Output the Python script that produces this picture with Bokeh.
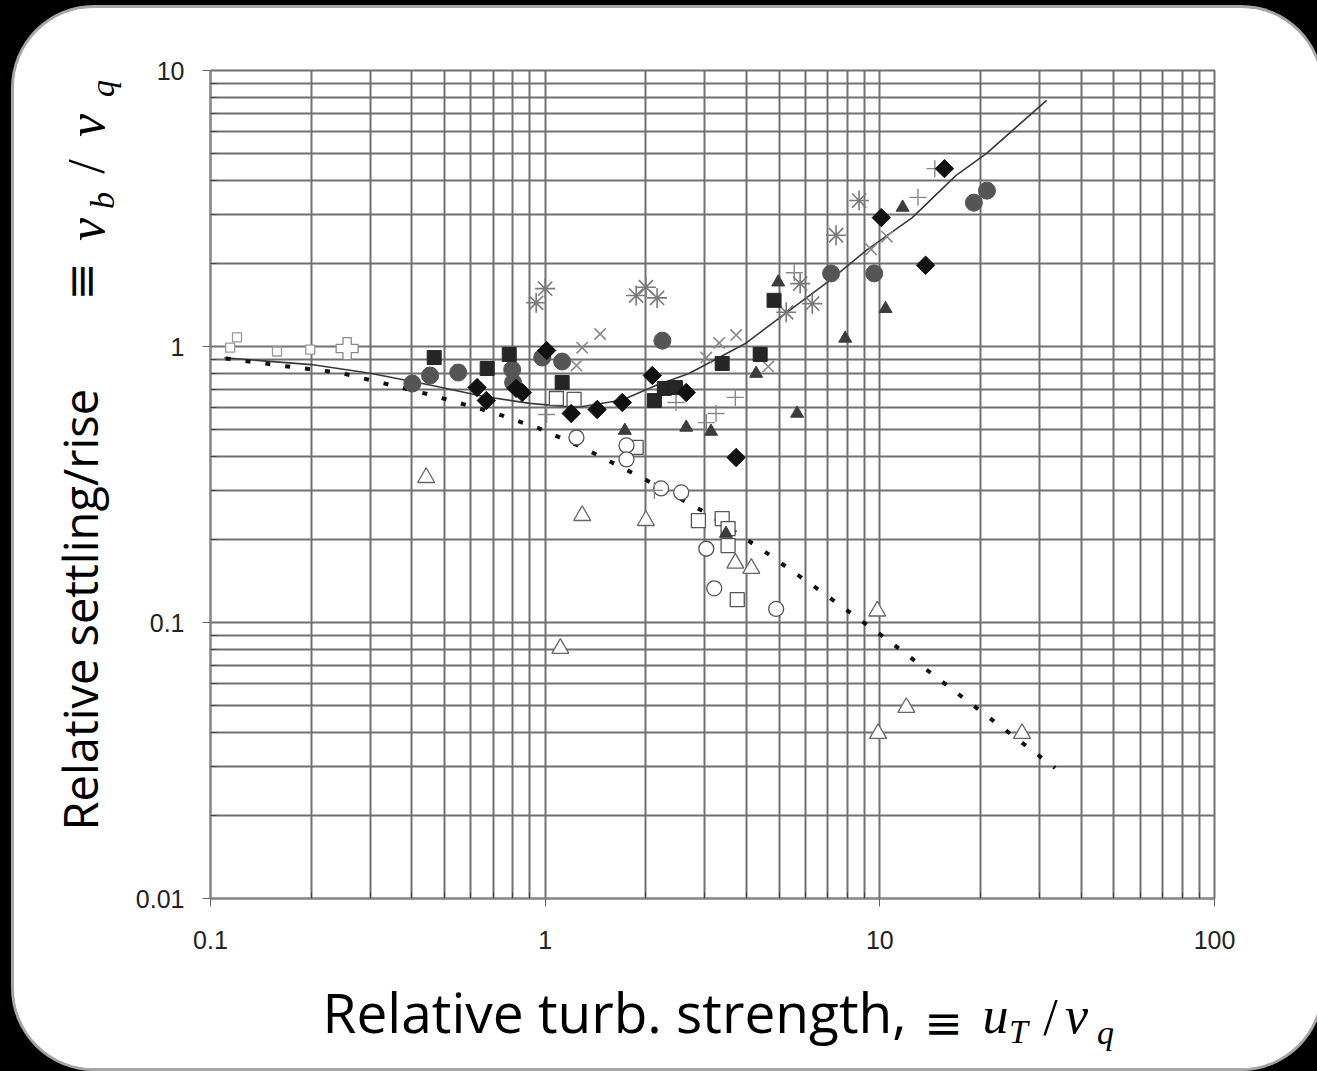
import math
from bokeh.plotting import figure
from bokeh.models import FixedTicker, Range1d
from bokeh.layouts import column, row
from bokeh.embed import file_html
from bokeh.resources import INLINE
from bokeh.core.properties import value

# ---------------- data ----------------
x_ticks = [0.1, 1, 10, 100]
x_tick_labels = ["0.1", "1", "10", "100"]
y_ticks = [0.01, 0.1, 1, 10]
y_tick_labels = ["0.01", "0.1", "1", "10"]

x_title = "Relative turb. strength,"
y_title = "Relative settling/rise"

# solid fitted curve
solid_x = [0.11, 0.2, 0.3, 0.46, 0.65, 0.9, 1.24, 1.7, 2.14, 2.69, 3.31, 3.99, 5.36, 7.06, 9.11, 12.5, 16.9, 20.8, 31.5]
solid_y = [0.91, 0.86, 0.80, 0.722, 0.66, 0.622, 0.601, 0.64, 0.722, 0.798, 0.912, 1.03, 1.35, 1.73, 2.23, 2.93, 4.17, 5.0, 7.79]

# dotted fitted curve
dot_x = [0.111, 0.18, 0.242, 0.33, 0.45, 0.714, 0.959, 1.31, 1.99, 3.09, 4.61, 6.83, 10.3, 33.4]
dot_y = [0.905, 0.839, 0.805, 0.735, 0.67, 0.572, 0.505, 0.427, 0.33, 0.246, 0.178, 0.127, 0.0884, 0.0297]

# filled black diamonds
diam_x = [0.626, 0.667, 0.819, 0.854, 1.01, 1.196, 1.43, 1.70, 2.09, 2.64, 3.72, 10.1, 13.7, 15.6]
diam_y = [0.710, 0.637, 0.705, 0.681, 0.967, 0.572, 0.591, 0.627, 0.785, 0.681, 0.396, 2.93, 1.97, 4.41]

# filled dark squares
sq_x = [0.466, 0.671, 0.781, 1.124, 2.12, 2.27, 2.45, 3.38, 4.39, 4.83]
sq_y = [0.912, 0.832, 0.936, 0.741, 0.637, 0.705, 0.710, 0.868, 0.936, 1.47]

# filled gray circles
circ_x = [0.401, 0.453, 0.550, 0.797, 0.802, 0.980, 1.124, 2.24, 7.15, 9.62, 19.1, 20.9]
circ_y = [0.734, 0.785, 0.805, 0.825, 0.741, 0.912, 0.882, 1.05, 1.84, 1.84, 3.32, 3.67]

# filled gray triangles
tri_x = [1.73, 2.64, 3.13, 3.47, 4.27, 4.97, 5.66, 7.88, 10.4, 11.7]
tri_y = [0.496, 0.509, 0.492, 0.210, 0.798, 1.71, 0.572, 1.07, 1.37, 3.19]

# asterisks
ast_x = [0.940, 1.0, 1.87, 2.00, 2.16, 5.25, 5.78, 6.28, 7.40, 8.67]
ast_y = [1.44, 1.62, 1.53, 1.64, 1.50, 1.33, 1.69, 1.43, 2.53, 3.38]

# x marks
xm_x = [1.24, 1.29, 1.46, 3.03, 3.31, 3.72, 4.64, 9.42, 10.5]
xm_y = [0.853, 0.99, 1.11, 0.912, 1.03, 1.10, 0.846, 2.25, 2.50]

# thin plus marks
pl_x = [1.01, 2.46, 2.12, 3.03, 3.24, 3.70, 5.55, 13.0, 14.6]
pl_y = [0.567, 0.627, 0.301, 0.530, 0.572, 0.654, 1.85, 3.47, 4.41]

# small light open squares (left)
ssq_x = [0.1145, 0.120, 0.158, 0.1986]
ssq_y = [0.99, 1.08, 0.959, 0.975]

# open squares
osq_x = [1.08, 1.22, 1.87, 2.87, 3.38, 3.52, 3.52, 3.75]
osq_y = [0.648, 0.643, 0.431, 0.234, 0.238, 0.219, 0.190, 0.121]

# open circles
oc_x = [1.24, 1.75, 1.75, 2.22, 2.55, 3.03, 3.20, 4.90]
oc_y = [0.468, 0.438, 0.390, 0.306, 0.296, 0.185, 0.133, 0.112]

# open triangles
otri_x = [0.441, 1.11, 1.29, 2.00, 3.70, 4.13, 9.82, 9.88, 12.0, 26.6]
otri_y = [0.335, 0.0805, 0.244, 0.234, 0.164, 0.157, 0.110, 0.0396, 0.0492, 0.0396]

# open cross (outlined plus)
ocross_x = [0.256]
ocross_y = [0.983]

# ---------------- main figure ----------------
minor_x = [k * 10.0 ** e for e in (-1, 0, 1) for k in range(2, 10)]
minor_y = [k * 10.0 ** e for e in (-2, -1, 0) for k in range(2, 10)]

CARD_W, CARD_H = 1307, 1060
YF_W = 113
TOP_H = 955
BT, BB = 62, 65           # frame borders (top / bottom) of the top row
BL, BR = 83, 107          # frame borders (left / right) of the main plot

p = figure(width=CARD_W - YF_W, height=TOP_H, x_axis_type="log", y_axis_type="log",
           x_range=(0.1, 100), y_range=(0.01, 10),
           output_backend="svg", toolbar_location=None,
           min_border_left=BL, min_border_right=BR, min_border_top=BT, min_border_bottom=BB,
           background_fill_color="white", border_fill_color="white",
           outline_line_color="#707070", outline_line_width=2)

for ax, ticks, minors, labels in ((p.xaxis, x_ticks, minor_x, x_tick_labels),
                                  (p.yaxis, y_ticks, minor_y, y_tick_labels)):
    ax.ticker = FixedTicker(ticks=ticks, minor_ticks=minors)
    ax.major_label_overrides = {t: l for t, l in zip(ticks, labels)}
    ax.major_label_text_font = "Liberation Sans"
    ax.major_label_text_font_size = "25px"
    ax.major_label_text_color = "#222222"
    ax.axis_line_color = "#888888"
    ax.axis_line_width = 2
    ax.major_tick_line_color = "#666666"
    ax.major_tick_out = 8
    ax.major_tick_in = 0
    ax.minor_tick_line_color = "#444444"
    ax.minor_tick_in = 6
    ax.minor_tick_out = 0

p.xaxis.major_label_standoff = 24
p.yaxis.major_label_standoff = 18

for g in (p.xgrid, p.ygrid):
    g.grid_line_color = "#707070"
    g.grid_line_width = 2
    g.minor_grid_line_color = "#707070"
    g.minor_grid_line_width = 2

# curves
p.line(solid_x, solid_y, line_color="#3a3a3a", line_width=1.6)
p.line(dot_x, dot_y, line_color="#111111", line_width=4, line_dash="5 15")

# markers
p.scatter(ssq_x, ssq_y, marker="square", size=9, fill_color="white", line_color="#999999", line_width=1.3)
p.scatter(osq_x, osq_y, marker="square", size=14, fill_color="white", line_color="#555555", line_width=1.3)
p.scatter(oc_x, oc_y, marker="circle", size=15, fill_color="white", line_color="#555555", line_width=1.3)
p.scatter(otri_x, otri_y, marker="triangle", size=17, fill_color="white", line_color="#666666", line_width=1.3)
p.scatter(ocross_x, ocross_y, marker="plus", size=22, fill_color="white", line_color="#888888", line_width=1.3)
p.scatter(pl_x, pl_y, marker="cross", size=17, line_color="#888888", line_width=1.4)
p.scatter(xm_x, xm_y, marker="x", size=16, line_color="#888888", line_width=1.6)
p.scatter(ast_x, ast_y, marker="asterisk", size=20, line_color="#7a7a7a", line_width=1.6)
p.scatter(circ_x, circ_y, marker="circle", size=17, fill_color="#555555", line_color="#555555")
p.scatter(tri_x, tri_y, marker="triangle", size=13, fill_color="#3c3c3c", line_color="#3c3c3c")
p.scatter(sq_x, sq_y, marker="square", size=14, fill_color="#262626", line_color="#262626")
p.scatter(diam_x, diam_y, marker="square", angle=math.pi / 4, size=13,
          fill_color="#111111", line_color="#111111")


# ---------------- title panels (text glyphs in pixel-unit figures) ----------------
def text_fig(w, h, bl=0, br=0, bt=0, bb=0, xr=None, yr=None):
    f = figure(width=w, height=h,
               x_range=Range1d(*(xr or (0, w))), y_range=Range1d(*(yr or (0, h))),
               output_backend="svg", toolbar_location=None,
               min_border_left=bl, min_border_right=br, min_border_top=bt, min_border_bottom=bb,
               x_axis_location=None, y_axis_location=None, outline_line_color=None,
               background_fill_color="white", border_fill_color="white")
    f.grid.visible = False
    return f


MATH = "Liberation Serif"


def put(f, x, y, s, size, font="Open Sans", style="normal", align="left", angle=0.0):
    f.text(x=[x], y=[y], text=[s], angle=angle, text_font=value(font),
           text_font_size=value(f"{size}px"), text_font_style=style,
           text_align=align, text_baseline="middle", text_color="black")


# x title panel (below the plot): local x = page x - 14, local y = 1068 - page y
XF_H = CARD_H - TOP_H
xf = text_fig(CARD_W, XF_H, bl=YF_W + BL, br=BR,
              xr=(YF_W + BL, CARD_W - BR), yr=(0, XF_H))
put(xf, 308, 1068 - 1011, x_title, 55)
put(xf, 929, 1068 - 1022, "\u2261", 46, font="DejaVu Serif", align="center")
put(xf, 981, 1068 - 1015, "u", 52, font=MATH, style="italic", align="center")
put(xf, 1004, 1068 - 1031, "T", 34, font=MATH, style="italic", align="center")
put(xf, 1036, 1068 - 1017, "/", 52, font=MATH, align="center")
put(xf, 1062, 1068 - 1015, "v", 52, font=MATH, style="italic", align="center")
put(xf, 1091, 1068 - 1032, "q", 34, font=MATH, style="italic", align="center")

# y title panel (left of the plot), rotated: local x = page x - 14, local y = 963 - page y
A = math.pi / 2
yf = text_fig(YF_W, TOP_H, bt=BT, bb=BB, xr=(0, YF_W), yr=(BB, TOP_H - BT))
put(yf, 79 - 14, 963 - 830, y_title, 47, angle=A)
put(yf, 80 - 14, 963 - 281, "\u2261", 46, font="DejaVu Serif", align="center", angle=A)
put(yf, 86 - 14, 963 - 229, "v", 52, font=MATH, style="italic", align="center", angle=A)
put(yf, 102 - 14, 963 - 200, "b", 34, font=MATH, style="italic", align="center", angle=A)
put(yf, 86 - 14, 963 - 166, "/", 52, font=MATH, align="center", angle=A)
put(yf, 86 - 14, 963 - 125, "v", 52, font=MATH, style="italic", align="center", angle=A)
put(yf, 102 - 14, 963 - 88, "q", 34, font=MATH, style="italic", align="center", angle=A)

card = column(row(yf, p), xf, width=CARD_W, height=CARD_H,
              styles={"background-color": "white", "border-radius": "80px",
                      "overflow": "hidden", "box-shadow": "0 0 0 3px #a9a5a5"})
card.margin = (8, 0, 0, 14)

layout = column(card, width=1317, height=1071,
                styles={"background-color": "black", "overflow": "hidden"})

open("out.html", "w").write(file_html(layout, INLINE))
